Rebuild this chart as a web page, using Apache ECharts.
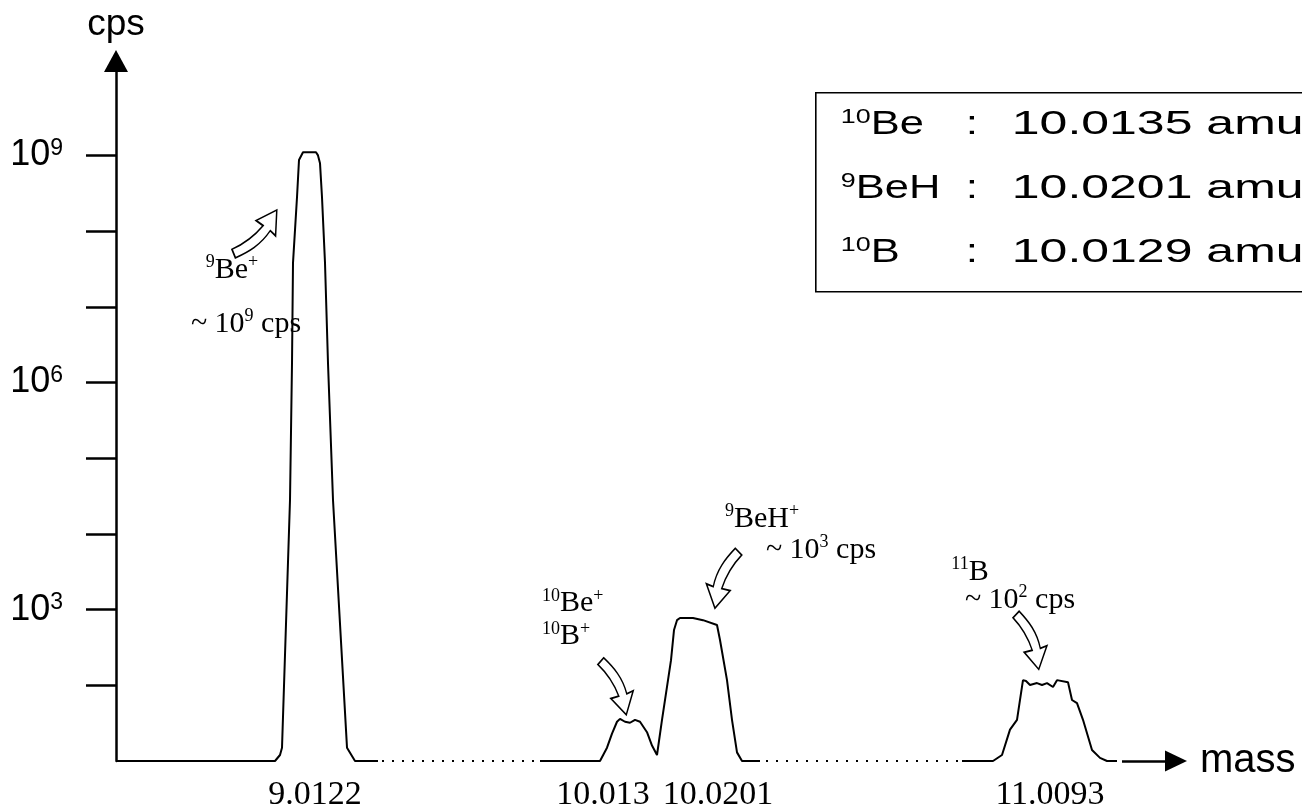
<!DOCTYPE html>
<html>
<head>
<meta charset="utf-8">
<script src="https://cdn.jsdelivr.net/npm/echarts@6.0.0/dist/echarts.min.js"></script>
<style>
html,body{margin:0;padding:0;background:#ffffff;}
#chart{width:1302px;height:811px;}
</style>
</head>
<body>
<div id="chart"></div>
<script>
// Schematic scan position (arbitrary units along the broken mass axis) and counts per second
const be9ScanPos = [0, 159, 164, 166, 174, 176, 177, 181, 183, 187, 200, 202, 204, 206, 209, 212, 217, 231, 239, 262];
const be9Cps     = [10, 10, 12, 15, 2.8e4, 1.8e6, 3.8e7, 2.8e8, 8.7e8, 1.1e9, 1.1e9, 1.0e9, 7.9e8, 2.8e8, 3.8e7, 1.8e6, 2.8e4, 15, 10, 10];

const mass10ScanPos = [424, 484, 486, 491, 496, 501, 504, 509, 514, 519, 524, 531, 536, 541, 546, 552, 555, 558, 561, 564, 577, 587, 601, 604, 611, 616, 621, 626, 644];
const mass10Cps     = [10, 10, 10, 15, 23, 33, 36, 33, 32, 35, 33, 24, 16, 12, 35, 117, 215, 537, 725, 776, 776, 725, 626, 397, 117, 35, 13, 10, 10];

const b11ScanPos = [846, 877, 886, 894, 901, 904, 907, 910, 914, 921, 926, 931, 937, 941, 952, 956, 961, 967, 976, 984, 991, 1001];
const b11Cps     = [10, 10, 12, 26, 35, 64, 117, 114, 101, 107, 101, 107, 95, 117, 110, 64, 58, 35, 14, 11, 10, 10];

// skipped (broken) stretches of the mass scan, drawn dotted at the baseline
const gap1ScanPos = [266, 422];
const gap2ScanPos = [650, 844];
const baselineCps = 10;

// axis ticks
const massTickPos    = [199, 487, 602, 934];
const massTickLabels = ['9.0122', '10.013', '10.0201', '11.0093'];
const cpsTickDecades  = [2, 3, 4, 5, 6, 7, 8, 9];
const cpsLabelDecades = [3, 6, 9];

// interference table
const tableIsotopeMassNumbers = ['10', '9', '10'];
const tableIsotopes = ['Be', 'BeH', 'B'];
const tableMasses = ['10.0135 amu', '10.0201 amu', '10.0129 amu'];

const SERIF = 'Liberation Serif';
const SANS = 'Liberation Sans';
const zip = (xs, ys) => xs.map((x, i) => [x, ys[i]]);

const serifRich = {
  t: { fontFamily: SERIF, fontSize: 30, color: '#000', lineHeight: 33 },
  s: { fontFamily: SERIF, fontSize: 18, color: '#000', lineHeight: 18, verticalAlign: 'top' }
};

const arrowL = 'path://M32 0 L48 24 L38 22 C36 40 26 52 14 64 L4 58 C14 48 22 36 26 21 L14 20 Z';
const arrowR = 'path://M16 0 L0 24 L10 22 C12 40 22 52 34 64 L44 58 C34 48 26 36 22 21 L34 20 Z';
const arrowStyle = { color: '#fff', borderColor: '#000', borderWidth: 1.6 };

function textPoint(coord, text, align) {
  return {
    coord: coord, symbol: 'circle', symbolSize: 0,
    label: { show: true, position: 'inside', align: align || 'center', verticalAlign: 'middle',
             formatter: text, rich: serifRich }
  };
}
function arrowPoint(coord, path, rot, size) {
  return {
    coord: coord, symbol: path, symbolRotate: rot, symbolSize: size, symbolKeepAspect: true,
    itemStyle: arrowStyle, label: { show: false }
  };
}

const lineBase = { type: 'line', symbol: 'none', silent: true, smooth: false,
  lineStyle: { color: '#000', width: 2 } };

const option = {
  animation: false,
  backgroundColor: '#fff',
  grid: { left: 116, right: 115, top: 61, bottom: 50, containLabel: false, outerBoundsMode: 'none' },
  xAxis: {
    type: 'value', min: 0, max: 1071,
    name: 'mass', nameLocation: 'end', nameGap: 13,
    nameTextStyle: { fontFamily: SANS, fontSize: 40, color: '#000', align: 'left', verticalAlign: 'middle' },
    axisLine: { show: false }, axisTick: { show: false }, splitLine: { show: false },
    axisLabel: {
      customValues: massTickPos, margin: 17,
      fontFamily: SERIF, fontSize: 34, color: '#000',
      formatter: v => massTickLabels[massTickPos.indexOf(v)] || ''
    }
  },
  yAxis: {
    type: 'log', logBase: 10, min: 10, max: 1.766e10,
    name: 'cps', nameLocation: 'end', nameGap: 18,
    nameTextStyle: { fontFamily: SANS, fontSize: 37, color: '#000' },
    axisLine: { show: true, symbol: ['none', 'triangle'], symbolSize: [24, 22],
      lineStyle: { color: '#000', width: 2.5 } },
    axisTick: { show: true, inside: false, length: 30, customValues: cpsTickDecades.map(d => Math.pow(10, d)),
      lineStyle: { color: '#000', width: 2.5 } },
    splitLine: { show: false },
    axisLabel: {
      customValues: cpsLabelDecades.map(d => Math.pow(10, d)), margin: 53,
      formatter: v => '{b|10}{s|' + Math.round(Math.log10(v)) + '}',
      rich: {
        b: { fontFamily: SANS, fontSize: 36, color: '#000', lineHeight: 36 },
        s: { fontFamily: SANS, fontSize: 23, color: '#000', lineHeight: 22, verticalAlign: 'top' }
      }
    }
  },
  series: [
    Object.assign({}, lineBase, { name: '9Be', data: zip(be9ScanPos, be9Cps),
      markPoint: { silent: true, data: [
        arrowPoint([142, 8.9e7], arrowL, -29, [46, 62]),
        textPoint([116, 3.06e7], '{s|9}{t|Be}{s|+}'),
        textPoint([130, 5.9e6], '{t|~ 10}{s|9}{t| cps}')
      ] } }),
    Object.assign({}, lineBase, { name: 'gap1', data: gap1ScanPos.map(x => [x, baselineCps]),
      lineStyle: { color: '#000', width: 2, type: [2, 8] } }),
    Object.assign({}, lineBase, { name: 'mass10', data: zip(mass10ScanPos, mass10Cps),
      markPoint: { silent: true, data: [
        textPoint([426, 730], '{s|10}{t|Be}{s|+}\n{s|10}{t|B}{s|+}', 'left'),
        arrowPoint([501, 98], arrowR, -170, [44, 60]),
        textPoint([646, 15740], '{s|9}{t|BeH}{s|+}'),
        textPoint([705, 6120], '{t|~ 10}{s|3}{t| cps}'),
        arrowPoint([607, 2612], arrowL, 173, [46, 62])
      ] } }),
    Object.assign({}, lineBase, { name: 'gap2', data: gap2ScanPos.map(x => [x, baselineCps]),
      lineStyle: { color: '#000', width: 2, type: [2, 8] } }),
    Object.assign({}, lineBase, { name: '11B', data: zip(b11ScanPos, b11Cps),
      markPoint: { silent: true, data: [
        textPoint([854, 3140], '{s|11}{t|B}'),
        textPoint([904, 1340], '{t|~ 10}{s|2}{t| cps}'),
        arrowPoint([915, 396], arrowR, -173, [44, 60])
      ] },
      markLine: { silent: true, symbol: ['none', 'triangle'], symbolSize: [21, 22],
        lineStyle: { color: '#000', width: 2.5, type: 'solid' }, label: { show: false },
        emphasis: { disabled: true },
        data: [[{ coord: [1006, baselineCps] }, { coord: [1060, baselineCps] }]] } })
  ],
  graphic: [{
    type: 'group', left: 815, top: 92, silent: true,
    children: [
      { type: 'rect', shape: { x: 0, y: 0, width: 560, height: 199 },
        style: { fill: '#fff', stroke: '#000', lineWidth: 1.6 } }
    ].concat(tableIsotopes.flatMap((iso, i) => {
      const y = 32 + i * 64;
      const rich = {
        s: { fontFamily: SANS, fontSize: 21, fill: '#000', lineHeight: 21, verticalAlign: 'top' },
        t: { fontFamily: SANS, fontSize: 34, fill: '#000', lineHeight: 36 }
      };
      return [
        { type: 'text', x: 25, y: y, scaleX: 1.28,
          style: { text: '{s|' + tableIsotopeMassNumbers[i] + '}{t|' + iso + '}', rich: rich, verticalAlign: 'middle', align: 'left' } },
        { type: 'text', x: 150, y: y, scaleX: 1.3,
          style: { text: '{t|:}', rich: rich, verticalAlign: 'middle', align: 'left' } },
        { type: 'text', x: 196, y: y, scaleX: 1.47,
          style: { text: '{t|' + tableMasses[i] + '}', rich: rich, verticalAlign: 'middle', align: 'left' } }
      ];
    }))
  }]
};

const chart = echarts.init(document.getElementById('chart'), null, { renderer: 'canvas' });
chart.setOption(option);
</script>
</body>
</html>
